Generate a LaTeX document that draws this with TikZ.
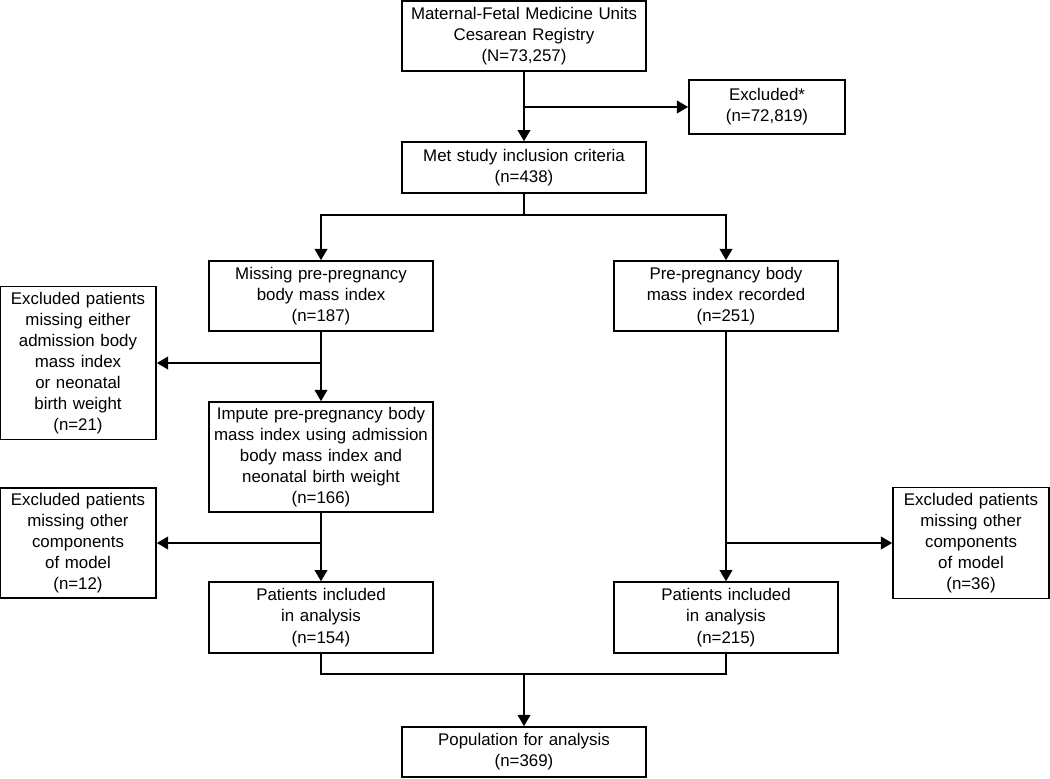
\documentclass[tikz,border=0pt]{standalone}
\usepackage{fontspec}
\setmainfont{Liberation Sans}
\usetikzlibrary{arrows.meta}

\tikzset{
  flowbox/.style={draw, rectangle, line width=1.2pt, align=center, inner sep=0pt,
    font=\fontsize{12}{15}\selectfont},
  wide/.style={flowbox, minimum width=6.1cm, text width=6cm},
  mid/.style={flowbox, minimum width=5.6cm, text width=5.5cm},
  side/.style={flowbox, minimum width=3.9cm, text width=3.8cm},
  flow/.style={line width=1.2pt, -{Triangle[length=8pt,width=9pt]}},
  link/.style={line width=1.2pt}
}

\begin{document}
\begin{tikzpicture}
\useasboundingbox (0,0) rectangle (26.25,-19.45);
\def \m {13.1}
\def \l {8.025}
\def \r {18.15}
\node[wide, minimum height=1.75cm] at (\m, -0.9) (registry) {Maternal-Fetal Medicine Units\\Cesarean Registry\\(N=73,257)};
\node[side, minimum height=1.35cm] at (19.175, -2.675) (excl) {Excluded*\\(n=72,819)};
\node[wide, minimum height=1.275cm] at (\m, -4.19) (met) {Met study inclusion criteria\\(n=438)};
\node[mid, minimum height=1.75cm] at (\l, -7.4) (missing) {Missing pre-pregnancy\\body mass index\\(n=187)};
\node[mid, minimum height=1.75cm] at (\r, -7.4) (recorded) {Pre-pregnancy body\\mass index recorded\\(n=251)};
\node[side, minimum height=3.825cm] at (1.95, -9.075) (exclbmi) {Excluded patients\\missing either\\admission body\\mass index\\or neonatal\\birth weight\\(n=21)};
\node[mid, minimum height=2.75cm] at (\l, -11.425) (impute) {Impute pre-pregnancy body\\mass index using admission\\body mass index and\\neonatal birth weight\\(n=166)};
\node[side, minimum height=2.75cm] at (1.95, -13.575) (exclleft) {Excluded patients\\missing other\\components\\of model\\(n=12)};
\node[side, minimum height=2.775cm] at (24.275, -13.575) (exclright) {Excluded patients\\missing other\\components\\of model\\(n=36)};
\node[mid, minimum height=1.775cm] at (\l, -15.44) (inclleft) {Patients included\\in analysis\\(n=154)};
\node[mid, minimum height=1.775cm] at (\r, -15.44) (inclright) {Patients included\\in analysis\\(n=215)};
\node[wide, minimum height=1.25cm] at (\m, -18.8) (pop) {Population for analysis\\(n=369)};
\coordinate (split) at (\m, -5.375);
\coordinate (merge) at (\m, -16.85);
% top
\draw[flow] (registry) -- (met);
\draw[flow] (registry.south |- excl.west) -- (excl.west);
\draw[link] (met) -- (split);
\draw[flow] (split) -| (missing);
\draw[flow] (split) -| (recorded);
% left branch
\draw[flow] (missing) -- (impute);
\draw[flow] (missing.south |- exclbmi.east) -- (exclbmi.east);
\draw[flow] (impute) -- (inclleft);
\draw[flow] (impute.south |- exclleft.east) -- (exclleft.east);
% right branch
\draw[flow] (recorded) -- (inclright);
\draw[flow] (recorded.south |- exclright.west) -- (exclright.west);
% merge
\draw[link] (inclleft) |- (merge);
\draw[link] (inclright) |- (merge);
\draw[flow] (merge) -- (pop);
\end{tikzpicture}
\end{document}
